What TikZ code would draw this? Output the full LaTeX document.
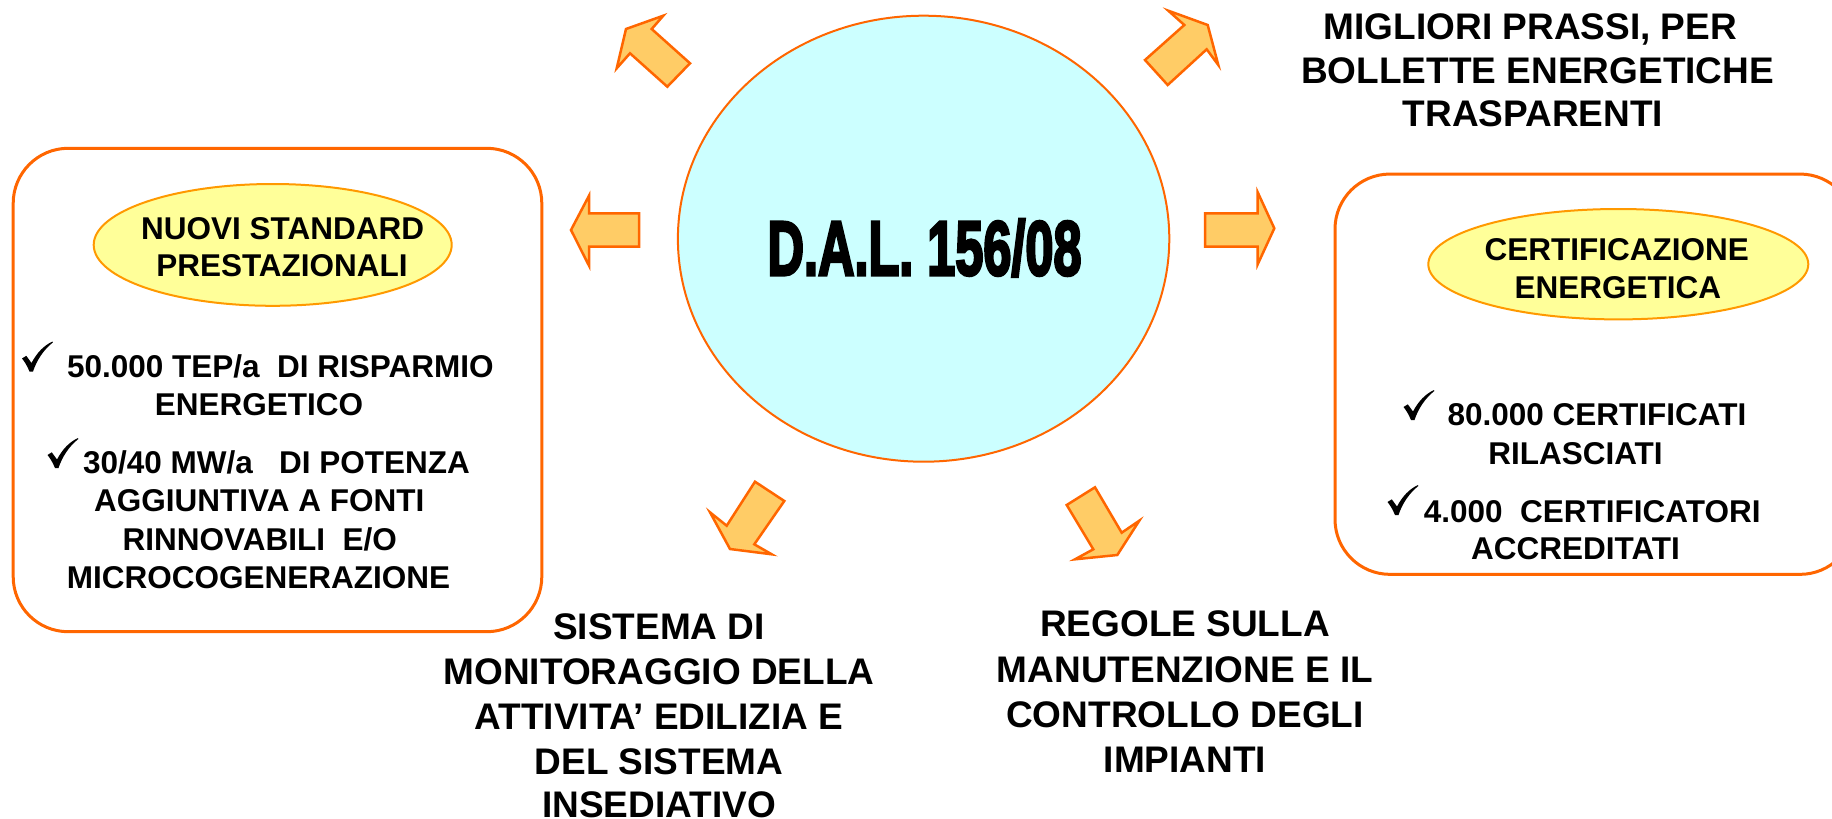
\documentclass[tikz,border=0pt]{standalone}
\usepackage{fontspec}
\usepackage{graphicx}
\usetikzlibrary{shapes.geometric}
\setmainfont{Liberation Sans}
\newfontfamily\dalfont{Liberation Sans}[UprightFont={* Bold}, FakeBold=4]
\definecolor{orng}{HTML}{FF6600}
\definecolor{tagline}{HTML}{FF9900}
\definecolor{tagfill}{HTML}{FFFF99}
\definecolor{arrfill}{HTML}{FFCC66}
\definecolor{cyanfill}{HTML}{CCFFFF}
\newcommand{\ckgap}{\hspace*{31pt}}
\begin{document}
\begin{tikzpicture}[x=1pt,y=-1pt,
  box/.style={draw=orng, line width=3pt, rounded corners=55pt, inner sep=0pt},
  tag/.style={ellipse, draw=tagline, fill=tagfill, line width=2pt, inner sep=0pt},
  blk/.style={fill=arrfill, draw=orng, line width=2.5pt, line join=miter},
  txt/.style={anchor=base, inner sep=0pt, font=\fontsize{31.5}{38}\selectfont\bfseries},
  big/.style={anchor=base, inner sep=0pt, font=\fontsize{37}{45}\selectfont\bfseries},
  ckmk/.pic={\fill[black] (0,17) -- (4.3,14.3) -- (9.5,21.5) .. controls (15,11) and (22,4) .. (30.5,0)
     -- (30.8,1) .. controls (22,8) and (15,18) .. (11,30) -- (7.5,30) .. controls (5,24) and (2.5,20) .. (0,17) -- cycle;}]
\useasboundingbox (0,0) rectangle (1832,819);
\fill[white] (0,0) rectangle (1832,819);

% boxes
\node[box, minimum width=528.6pt, minimum height=483.4pt] (lbox) at (277.5,390) {};
\node[box, minimum width=520pt, minimum height=400.3pt] (rbox) at (1595,374.2) {};

% central ellipse
\node[ellipse, draw=orng, fill=cyanfill, line width=2pt, inner sep=0pt,
      minimum width=491.4pt, minimum height=446pt] (dal) at (923.6,238.7) {};
\node[anchor=base, inner sep=0pt] (daltxt) at (924.6,275)
  {\dalfont\fontsize{77}{77}\selectfont\scalebox{0.655}[1]{D.A.L. 156/08}};

% tags
\node[tag, minimum width=358pt, minimum height=121.8pt] (ltag) at (272.7,244.9) {};
\node[tag, minimum width=380pt, minimum height=110.4pt] (rtag) at (1618.3,264.2) {};
\node[txt] (lt1) at (282.7,239.3) {NUOVI STANDARD};
\node[txt] (lt2) at (282,276.7) {PRESTAZIONALI};
\node[txt] (rt1) at (1616.8,260) {CERTIFICAZIONE};
\node[txt] (rt2) at (1617.8,298.3) {ENERGETICA};

% left box text
\node[txt] (l1) at (260.5,377.3) {\ckgap\ 50.000 TEP/a\ \ DI RISPARMIO};
\node[txt] (l2) at (259,415.7) {ENERGETICO};
\node[txt] (l3) at (261,473.3) {\ckgap 30/40 MW/a\ \ \ DI POTENZA};
\node[txt] (l4) at (259.3,511.7) {AGGIUNTIVA A FONTI};
\node[txt] (l5) at (259.7,550) {RINNOVABILI\ \ E/O};
\node[txt] (l6) at (258.6,588.3) {MICROCOGENERAZIONE};
\pic (ck1) at (22,341.5) {ckmk};
\pic (ck2) at (47.5,438) {ckmk};

% right box text
\node[txt] (r1) at (1577,425.7) {\ckgap\ 80.000 CERTIFICATI};
\node[txt] (r2) at (1575.5,464) {RILASCIATI};
\node[txt] (r3) at (1576.7,522.3) {\ckgap 4.000\ \ CERTIFICATORI};
\node[txt] (r4) at (1575.5,559) {ACCREDITATI};
\pic (ck3) at (1403.5,390) {ckmk};
\pic (ck4) at (1387.5,485) {ckmk};

% top right text
\node[big] (tr1) at (1530.4,39) {MIGLIORI PRASSI, PER};
\node[big] (tr2) at (1537.6,83.3) {BOLLETTE ENERGETICHE};
\node[big] (tr3) at (1533,126) {TRASPARENTI};

% bottom left text
\node[big] (bl1) at (659,639.3) {SISTEMA DI};
\node[big] (bl2) at (659,684) {MONITORAGGIO DELLA};
\node[big] (bl3) at (659,729.3) {ATTIVITA’ EDILIZIA E};
\node[big] (bl4) at (659,774.3) {DEL SISTEMA};
\node[big] (bl5) at (659,817.5) {INSEDIATIVO};

% bottom right text
\node[big] (br1) at (1185,636.7) {REGOLE SULLA};
\node[big] (br2) at (1185,682.3) {MANUTENZIONE E IL};
\node[big] (br3) at (1185,727.7) {CONTROLLO DEGLI};
\node[big] (br4) at (1185,772.7) {IMPIANTI};

% block arrows
% upper left
\draw[blk] (626,29) -- (663.3,15.7) -- (651.7,29) -- (690,63.3) -- (667.3,86.7) -- (630,53.3) -- (616.7,68.3) -- cycle;
% upper right
\draw[blk] (1168.3,10.7) -- (1207.7,25) -- (1218.3,65) -- (1206.7,49.3) -- (1167.7,85) -- (1145,60) -- (1184.3,25) -- cycle;
% left
\draw[blk] (571,230) -- (589,195.7) -- (589,213.3) -- (639,213.3) -- (639,246.7) -- (589,246.7) -- (589,265.7) -- cycle;
% right
\draw[blk] (1205,213.3) -- (1257.7,213.3) -- (1257.7,192.3) -- (1274.3,228.3) -- (1257.7,264.3) -- (1257.7,246.7) -- (1205,246.7) -- cycle;
% lower left
\draw[blk] (755,481.7) -- (784.3,501) -- (754.3,544.3) -- (771.7,554.3) -- (730,549) -- (710,512.3) -- (726.7,525.7) -- cycle;
% lower right
\draw[blk] (1066.7,505) -- (1095,487.3) -- (1121.7,532.7) -- (1139.3,520.7) -- (1117.3,555) -- (1075,559.3) -- (1093.3,549.3) -- cycle;
\end{tikzpicture}
\end{document}
